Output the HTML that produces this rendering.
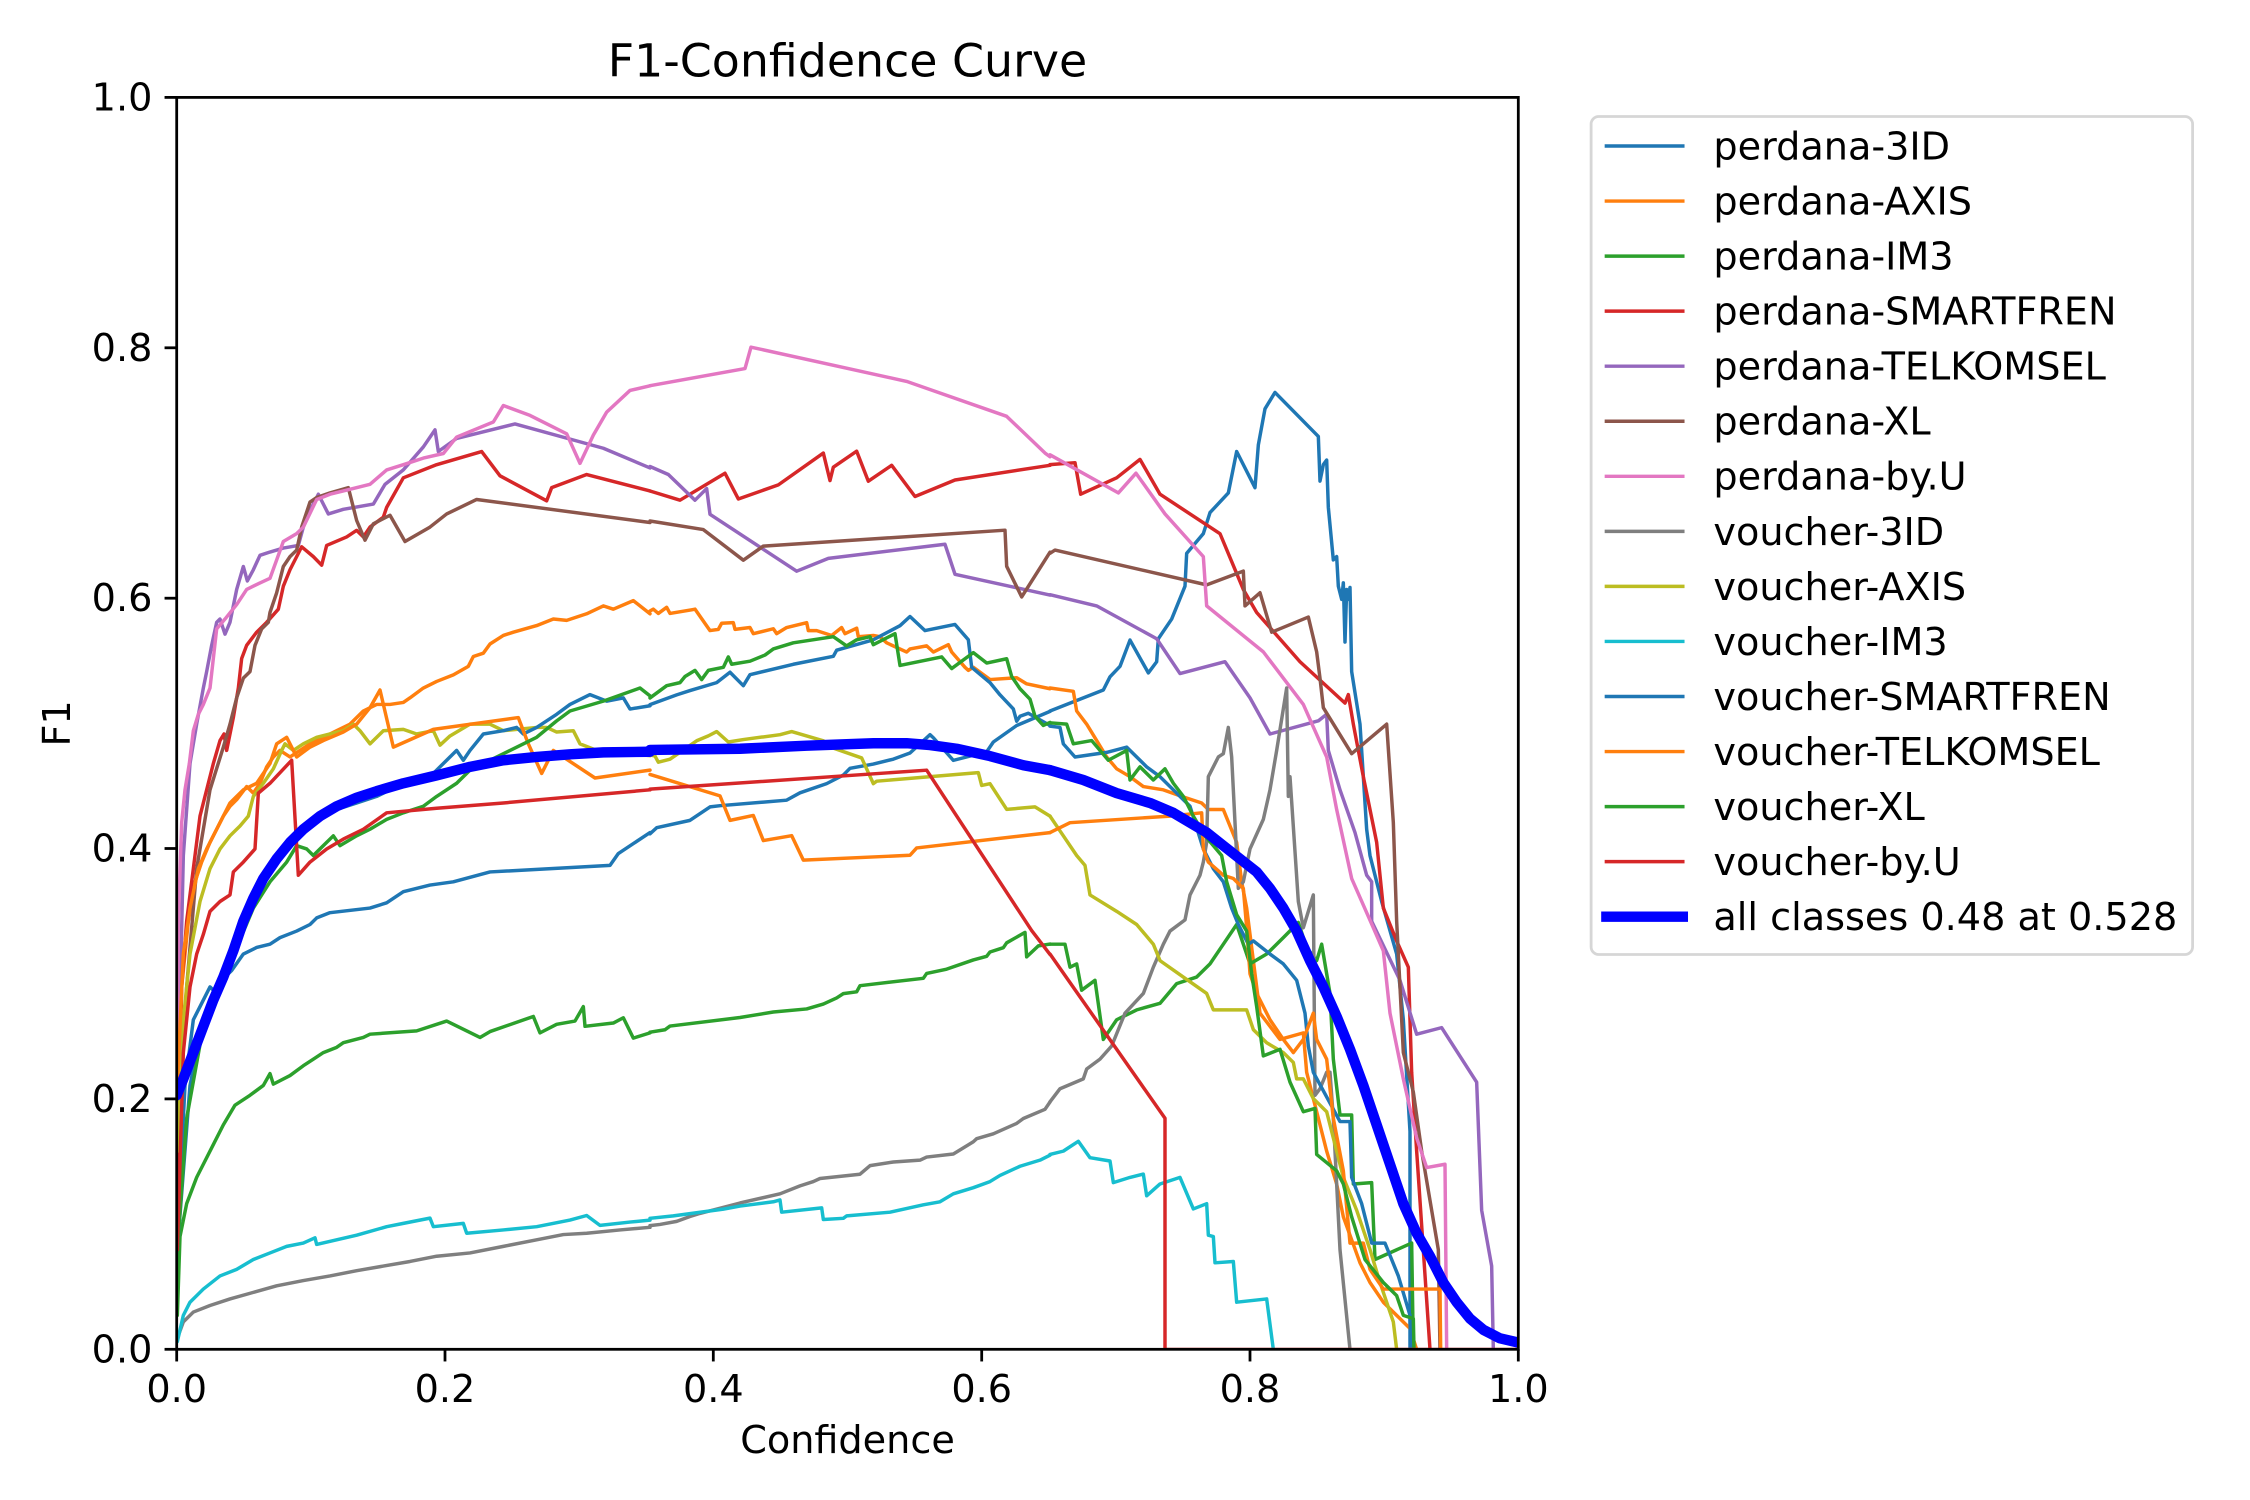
<!DOCTYPE html>
<html>
<head>
<meta charset="utf-8">
<style>
html,body{margin:0;padding:0;background:#fff;}
svg{display:block;}
.l polyline{fill:none;stroke-width:3.47;vector-effect:non-scaling-stroke;stroke-linejoin:round;stroke-linecap:round;}
.m polyline{fill:none;stroke:#0000ff;stroke-width:10.42;vector-effect:non-scaling-stroke;stroke-linejoin:round;stroke-linecap:round;}
text{font-family:"DejaVu Sans","Liberation Sans",sans-serif;fill:#000;}
</style>
</head>
<body>
<svg xmlns="http://www.w3.org/2000/svg" width="2250" height="1500" viewBox="0 0 2250 1500">
<rect x="0" y="0" width="2250" height="1500" fill="#fff"/>
<defs><clipPath id="c"><rect x="176.7" y="97.4" width="1341.6" height="1251.9"/></clipPath></defs>

<g clip-path="url(#c)">
<!-- left region -->
<g class="l" transform="matrix(0.33333 0 0 0.6569 170 330)">
<polyline stroke="#1f77b4" points="22,1450 30,1300 45,1150 70,1050 100,1020 120,1000 140,1010 165,985 185,975 220,950 260,940 300,935 330,925 380,915 420,905 440,895 480,887 600,880 650,872 700,855 780,845 850,840 960,825 1320,815 1345,797 1440,765"/>
<polyline stroke="#ff7f0e" points="22,1200 35,1000 55,900 75,840 95,810 120,780 140,760 160,740 180,725 200,715 230,695 250,705 270,690 290,665 310,650 330,640 360,650 390,640 420,630 460,620 500,610 540,600 580,580 620,570 660,570 700,567 720,560 760,545 800,535 850,525 895,512 910,497 940,492 960,478 1000,465 1030,460 1100,450 1150,440 1190,442 1250,432 1300,420 1330,425 1390,412 1440,432"/>
<polyline stroke="#2ca02c" points="22,1500 30,1380 50,1330 80,1290 100,1270 130,1240 160,1210 195,1180 240,1165 280,1150 300,1132 310,1148 360,1135 400,1120 430,1110 460,1100 500,1092 520,1085 580,1077 600,1072 740,1067 830,1052 930,1077 960,1068 1090,1045 1110,1070 1160,1057 1215,1052 1240,1030 1245,1060 1330,1055 1360,1047 1390,1078 1440,1070"/>
<polyline stroke="#d62728" points="22,1300 35,1000 50,900 70,820 90,740 110,700 130,660 150,625 162,615 170,640 190,590 205,545 215,500 230,480 260,460 290,445 325,425 340,390 360,365 395,330 430,345 455,358 470,328 530,315 560,305 580,315 600,300 640,285 650,270 700,225 800,205 935,185 990,222 1130,260 1145,240 1250,220 1440,245"/>
<polyline stroke="#9467bd" points="22,1200 40,800 60,660 80,600 100,545 110,520 125,480 140,445 150,440 165,463 180,445 200,395 220,360 232,382 250,365 270,343 300,338 340,332 385,328 400,300 420,275 445,250 475,280 520,273 610,265 645,235 700,213 760,178 795,152 805,185 860,165 1035,143 1300,180 1440,210"/>
<polyline stroke="#8c564b" points="22,1250 50,1000 80,820 120,700 160,635 180,600 200,560 220,530 240,520 255,480 275,455 295,445 300,430 320,400 340,360 360,345 380,335 395,300 420,262 440,255 480,248 535,240 560,290 585,320 610,295 660,282 705,322 780,300 830,280 920,258 1440,293"/>
<polyline stroke="#e377c2" points="22,1100 25,900 35,750 45,700 58,660 70,610 85,585 100,570 120,545 140,455 165,440 200,418 230,395 270,385 300,378 340,322 380,310 400,300 440,258 480,250 520,245 600,235 650,213 700,205 760,195 820,188 860,163 970,140 1000,115 1080,130 1190,158 1230,203 1270,160 1310,125 1380,92 1440,85"/>
<polyline stroke="#7f7f7f" points="22,1535 40,1510 70,1495 120,1485 180,1475 250,1465 320,1455 400,1447 480,1440 560,1432 640,1425 720,1418 800,1410 900,1405 1000,1395 1100,1385 1180,1377 1250,1375 1350,1370 1440,1366"/>
<polyline stroke="#bcbd22" points="22,1250 40,1050 60,950 90,870 120,820 150,790 180,770 210,755 235,740 250,710 280,690 310,668 335,640 345,630 370,640 400,630 440,620 480,615 520,610 550,600 570,610 600,630 640,610 700,608 740,615 790,610 810,632 840,618 900,600 960,600 1000,610 1100,605 1130,605 1160,612 1210,610 1230,630 1280,640 1380,645 1440,648"/>
<polyline stroke="#17becf" points="22,1540 40,1500 60,1480 100,1460 150,1440 200,1430 250,1415 300,1405 350,1395 400,1390 435,1382 440,1392 500,1385 560,1378 650,1365 700,1360 780,1352 790,1365 880,1360 890,1375 1000,1370 1100,1365 1200,1355 1250,1348 1290,1363 1380,1358 1440,1355"/>
<polyline stroke="#1f77b4" points="22,1400 60,1150 100,1050 130,1010 150,990 180,960 220,900 260,860 300,820 340,790 380,770 420,750 460,740 500,730 560,720 620,710 700,690 780,680 860,640 880,655 900,640 940,615 1000,610 1040,605 1060,615 1100,605 1160,585 1200,570 1260,555 1310,565 1360,560 1380,577 1440,572"/>
<polyline stroke="#ff7f0e" points="22,1150 40,950 60,880 85,820 110,790 150,750 180,720 220,700 260,690 300,660 320,630 350,620 380,650 420,635 460,625 520,612 560,600 600,575 630,548 670,635 790,608 1045,590 1075,630 1115,675 1150,640 1275,682 1440,670"/>
<polyline stroke="#2ca02c" points="22,1400 50,1200 100,1060 150,1000 200,940 250,880 300,840 350,810 380,785 410,790 430,800 460,785 490,770 510,785 560,770 600,760 650,745 700,735 760,725 800,710 860,690 900,670 960,655 1040,635 1100,620 1160,595 1200,580 1300,565 1410,545 1440,557"/>
<polyline stroke="#d62728" points="22,1400 40,1100 60,1000 80,950 100,920 120,885 150,870 180,860 190,825 220,810 255,790 265,705 300,690 365,655 385,830 420,810 470,790 520,775 580,760 650,735 800,728 1000,720 1440,700"/>
</g>

<!-- middle region (zoom11 coords) -->
<g class="l" transform="matrix(0.33333 0 0 0.6122 640 300)">
<polyline stroke="#1f77b4" points="30,872 50,862 150,850 210,828 240,826 440,817 480,805 560,790 610,776 630,765 700,758 760,750 810,740 870,710 880,715 940,752 1040,738 1060,722 1130,695 1230,672"/>
<polyline stroke="#ff7f0e" points="30,508 40,505 55,512 80,502 90,512 155,506 165,505 210,540 235,538 245,528 280,527 285,538 330,535 340,545 400,537 410,545 440,535 500,527 505,540 530,540 575,548 605,535 615,545 650,536 655,550 700,548 720,550 740,560 800,575 810,570 860,565 880,575 925,563 935,575 975,600 985,605 1000,600 1050,620 1130,617 1160,627 1230,635"/>
<polyline stroke="#2ca02c" points="30,1196 75,1192 90,1186 300,1172 400,1163 500,1158 550,1150 590,1140 610,1133 650,1130 660,1120 850,1108 860,1100 920,1093 1000,1078 1040,1072 1050,1065 1090,1058 1100,1050 1155,1033 1160,1073 1195,1055 1230,1052"/>
<polyline stroke="#d62728" points="30,312 120,327 255,283 295,325 415,302 550,250 570,295 580,273 650,247 685,296 755,270 825,321 945,294 1230,270"/>
<polyline stroke="#9467bd" points="30,272 85,285 165,327 200,308 210,350 470,443 565,422 915,399 945,448 1230,482"/>
<polyline stroke="#8c564b" points="30,361 190,375 310,425 370,402 1095,376 1100,435 1145,485 1230,412"/>
<polyline stroke="#e377c2" points="30,140 315,112 333,77 800,133 1100,190 1215,250 1230,256"/>
<polyline stroke="#7f7f7f" points="30,1512 60,1510 110,1505 150,1497 180,1492 300,1475 420,1460 480,1447 520,1440 540,1435 660,1428 690,1414 760,1408 840,1405 860,1400 940,1395 1000,1375 1010,1370 1060,1362 1130,1345 1150,1337 1215,1322 1230,1310"/>
<polyline stroke="#bcbd22" points="30,743 45,745 55,755 90,750 170,720 205,712 230,705 265,722 310,718 420,710 455,705 550,720 580,732 665,748 700,790 710,786 1015,772 1025,793 1050,790 1100,832 1185,828 1230,843"/>
<polyline stroke="#17becf" points="30,1500 100,1496 250,1485 300,1480 400,1473 420,1470 425,1490 545,1483 550,1502 610,1500 620,1496 750,1490 850,1478 900,1473 940,1460 1000,1450 1050,1440 1080,1430 1140,1415 1200,1405 1230,1397"/>
<polyline stroke="#1f77b4" points="30,661 110,645 150,638 230,625 270,608 310,630 330,612 460,595 580,582 590,572 700,555 780,532 810,517 855,540 945,530 985,555 995,600 1050,625 1080,645 1120,668 1130,688 1140,680 1165,675 1230,695"/>
<polyline stroke="#ff7f0e" points="30,775 240,810 270,850 340,842 370,883 455,875 490,915 810,907 830,895 1230,870"/>
<polyline stroke="#2ca02c" points="30,650 80,630 120,625 135,615 165,605 185,620 205,605 250,600 265,583 275,595 330,590 375,580 400,570 460,560 580,550 620,565 650,555 690,550 700,563 765,545 780,597 905,583 935,602 1000,576 1040,593 1100,586 1115,615 1140,635 1170,652 1185,680 1210,695 1230,690"/>
<polyline stroke="#d62728" points="30,799 860,768 1175,1030 1230,1069"/>
</g>

<!-- right region -->
<g class="l" transform="matrix(0.33333 0 0 0.6569 1050 330)">
<polyline stroke="#1f77b4" points="0,580 160,548 180,528 210,512 240,472 295,522 320,505 325,470 365,440 405,390 410,340 460,310 480,278 535,248 560,185 615,240 625,175 645,120 675,95 805,162 810,230 820,205 830,198 835,270 850,350 860,345 865,390 875,410 880,385 885,475 890,395 895,410 900,392 905,520 930,600 950,760 960,800 995,870 1040,950 1060,1050 1080,1220 1080,1552"/>
<polyline stroke="#ff7f0e" points="0,545 70,550 80,580 110,600 140,625 170,650 200,668 240,680 280,695 340,700 395,710 455,720 475,730 520,730 560,780 575,840 590,880 600,920 630,1040 690,1080 760,1070 770,1130 790,1170 830,1250 860,1300 880,1350 930,1420 960,1450 1000,1480 1040,1500 1080,1520 1100,1552"/>
<polyline stroke="#2ca02c" points="0,935 45,935 60,970 80,965 95,1005 135,990 160,1080 200,1050 260,1035 330,1025 380,995 440,985 480,965 520,935 560,905 570,920 600,965 650,950 700,925 745,902 770,940 800,960 815,935 840,1010 850,1110 870,1195 905,1195 910,1300 965,1298 975,1415 1085,1390 1090,1552"/>
<polyline stroke="#d62728" points="0,205 75,202 92,250 200,225 270,197 330,250 510,310 580,395 620,430 750,505 885,568 895,555 910,600 940,680 980,780 1000,880 1040,930 1075,970 1085,1130 1100,1250 1140,1552"/>
<polyline stroke="#9467bd" points="0,403 140,420 320,470 390,523 525,505 600,560 660,615 805,595 830,585 835,640 870,700 915,765 950,830 965,840 965,900 1050,990 1100,1072 1175,1062 1280,1145 1295,1340 1325,1425 1330,1552"/>
<polyline stroke="#8c564b" points="0,340 15,335 470,388 580,367 585,420 630,400 665,460 775,437 800,490 810,530 820,575 905,645 1010,600 1030,750 1040,900 1060,1100 1090,1160 1115,1250 1165,1400 1170,1552"/>
<polyline stroke="#e377c2" points="0,190 205,248 258,218 345,280 460,345 470,420 640,490 760,570 830,650 860,730 905,835 970,910 1000,945 1020,1040 1060,1140 1100,1230 1130,1275 1185,1270 1190,1552"/>
<polyline stroke="#7f7f7f" points="0,1175 30,1155 100,1140 110,1125 150,1110 185,1090 225,1040 280,1010 310,970 340,935 360,915 405,898 420,860 450,830 460,810 470,780 475,680 505,650 520,645 535,605 545,650 565,850 580,840 600,790 640,745 660,700 680,640 710,545 715,710 720,680 745,870 760,910 790,860 795,1165 810,1155 830,1130 840,1130 850,1200 870,1400 900,1552"/>
<polyline stroke="#bcbd22" points="0,740 40,770 80,800 105,815 120,860 200,885 260,905 310,935 330,960 400,985 470,1010 490,1035 590,1035 610,1065 650,1085 700,1100 730,1115 740,1140 760,1140 790,1170 830,1190 880,1290 920,1340 960,1400 990,1450 1030,1510 1040,1552"/>
<polyline stroke="#17becf" points="0,1255 40,1250 85,1235 120,1260 180,1265 190,1298 240,1290 280,1285 290,1318 330,1300 390,1290 430,1338 470,1330 475,1378 490,1380 495,1420 550,1418 560,1480 650,1475 670,1552"/>
<polyline stroke="#1f77b4" points="0,603 30,605 40,630 75,650 170,643 230,635 290,665 330,680 380,705 420,725 460,790 490,820 520,840 545,880 565,905 595,935 610,930 660,950 700,965 740,990 765,1040 775,1090 790,1130 870,1205 900,1205 905,1290 935,1330 965,1390 1005,1390 1045,1440 1080,1500 1082,1552"/>
<polyline stroke="#ff7f0e" points="0,765 60,750 360,740 455,735 460,790 475,810 520,830 550,835 580,850 590,910 600,980 620,1010 660,1050 700,1080 730,1100 760,1080 790,1040 800,1080 830,1110 850,1200 880,1280 900,1390 940,1390 960,1430 1000,1460 1170,1460 1172,1552"/>
<polyline stroke="#2ca02c" points="0,598 50,600 70,630 125,625 175,655 230,640 240,685 270,665 310,685 345,668 370,690 400,710 430,740 465,770 515,800 530,840 560,890 590,915 605,980 620,1030 640,1105 690,1095 720,1145 760,1190 795,1185 800,1255 860,1280 880,1300 905,1350 945,1415 1000,1450 1040,1470 1060,1500 1090,1505 1092,1552"/>
<polyline stroke="#d62728" points="0,950 345,1200 345,1552 1410,1552"/>
</g>

<!-- mean curve -->
<g class="m" transform="matrix(0.33333 0 0 0.6569 170 330)">
<polyline points="20,1165 40,1140 70,1100 100,1060 130,1020 160,985 190,945 220,900 250,865 280,835 320,805 360,780 400,760 450,740 500,725 560,712 620,702 700,690 800,678 900,665 1000,655 1100,650 1200,646 1300,643 1440,642"/>
</g>
<g class="m" transform="matrix(0.33333 0 0 0.6122 640 300)">
<polyline points="30,735 300,733 500,728 700,724 800,724 870,727 950,733 1050,745 1150,760 1230,768"/>
</g>
<g class="m" transform="matrix(0.33333 0 0 0.6569 1050 330)">
<polyline points="0,670 100,685 200,705 300,720 370,735 420,750 470,765 520,785 570,805 620,825 660,850 700,880 740,915 780,960 820,1000 860,1045 900,1095 940,1150 980,1210 1020,1270 1060,1330 1100,1375 1140,1410 1180,1450 1220,1480 1260,1505 1300,1522 1350,1535 1410,1542"/>
</g>
</g>

<!-- spines -->
<rect x="176.7" y="97.4" width="1341.6" height="1251.9" fill="none" stroke="#000" stroke-width="2.78"/>

<!-- ticks -->
<g stroke="#000" stroke-width="2.78">
<line x1="176.7" y1="1349.3" x2="176.7" y2="1361.45"/>
<line x1="445.0" y1="1349.3" x2="445.0" y2="1361.45"/>
<line x1="713.3" y1="1349.3" x2="713.3" y2="1361.45"/>
<line x1="981.7" y1="1349.3" x2="981.7" y2="1361.45"/>
<line x1="1250.0" y1="1349.3" x2="1250.0" y2="1361.45"/>
<line x1="1518.3" y1="1349.3" x2="1518.3" y2="1361.45"/>
<line x1="164.55" y1="1349.3" x2="176.7" y2="1349.3"/>
<line x1="164.55" y1="1098.9" x2="176.7" y2="1098.9"/>
<line x1="164.55" y1="848.5" x2="176.7" y2="848.5"/>
<line x1="164.55" y1="598.2" x2="176.7" y2="598.2"/>
<line x1="164.55" y1="347.8" x2="176.7" y2="347.8"/>
<line x1="164.55" y1="97.4" x2="176.7" y2="97.4"/>
</g>

<!-- tick labels -->
<g font-size="38.19" text-anchor="middle">
<text x="176.7" y="1402">0.0</text>
<text x="445.0" y="1402">0.2</text>
<text x="713.3" y="1402">0.4</text>
<text x="981.7" y="1402">0.6</text>
<text x="1250.0" y="1402">0.8</text>
<text x="1518.3" y="1402">1.0</text>
</g>
<g font-size="38.19" text-anchor="end">
<text x="152.4" y="1362.3">0.0</text>
<text x="152.4" y="1111.9">0.2</text>
<text x="152.4" y="861.5">0.4</text>
<text x="152.4" y="611.2">0.6</text>
<text x="152.4" y="360.8">0.8</text>
<text x="152.4" y="110.4">1.0</text>
</g>

<!-- axis labels & title -->
<text x="847.5" y="1453" font-size="38.19" text-anchor="middle">Confidence</text>
<text x="69.8" y="723.4" font-size="38.19" text-anchor="middle" transform="rotate(-90 69.8 723.4)">F1</text>
<text x="847.5" y="76.6" font-size="45.83" text-anchor="middle">F1-Confidence Curve</text>

<!-- legend -->
<rect x="1591.1" y="116.5" width="601.5" height="838" rx="7.6" ry="7.6" fill="#fff" stroke="#d6d6d6" stroke-width="2.78"/>
<g stroke-width="3.47" stroke-linecap="square">
<line x1="1606.4" x2="1682.8" y1="146" y2="146" stroke="#1f77b4"/>
<line x1="1606.4" x2="1682.8" y1="201.05" y2="201.05" stroke="#ff7f0e"/>
<line x1="1606.4" x2="1682.8" y1="256.1" y2="256.1" stroke="#2ca02c"/>
<line x1="1606.4" x2="1682.8" y1="311.15" y2="311.15" stroke="#d62728"/>
<line x1="1606.4" x2="1682.8" y1="366.2" y2="366.2" stroke="#9467bd"/>
<line x1="1606.4" x2="1682.8" y1="421.25" y2="421.25" stroke="#8c564b"/>
<line x1="1606.4" x2="1682.8" y1="476.3" y2="476.3" stroke="#e377c2"/>
<line x1="1606.4" x2="1682.8" y1="531.35" y2="531.35" stroke="#7f7f7f"/>
<line x1="1606.4" x2="1682.8" y1="586.4" y2="586.4" stroke="#bcbd22"/>
<line x1="1606.4" x2="1682.8" y1="641.45" y2="641.45" stroke="#17becf"/>
<line x1="1606.4" x2="1682.8" y1="696.5" y2="696.5" stroke="#1f77b4"/>
<line x1="1606.4" x2="1682.8" y1="751.55" y2="751.55" stroke="#ff7f0e"/>
<line x1="1606.4" x2="1682.8" y1="806.6" y2="806.6" stroke="#2ca02c"/>
<line x1="1606.4" x2="1682.8" y1="861.65" y2="861.65" stroke="#d62728"/>
<line x1="1606.4" x2="1682.8" y1="916.7" y2="916.7" stroke="#0000ff" stroke-width="10.42"/>
</g>
<g font-size="38.19">
<text x="1713.4" y="159.4">perdana-3ID</text>
<text x="1713.4" y="214.45">perdana-AXIS</text>
<text x="1713.4" y="269.5">perdana-IM3</text>
<text x="1713.4" y="324.55">perdana-SMARTFREN</text>
<text x="1713.4" y="379.6">perdana-TELKOMSEL</text>
<text x="1713.4" y="434.65">perdana-XL</text>
<text x="1713.4" y="489.7">perdana-by.U</text>
<text x="1713.4" y="544.75">voucher-3ID</text>
<text x="1713.4" y="599.8">voucher-AXIS</text>
<text x="1713.4" y="654.85">voucher-IM3</text>
<text x="1713.4" y="709.9">voucher-SMARTFREN</text>
<text x="1713.4" y="764.95">voucher-TELKOMSEL</text>
<text x="1713.4" y="820">voucher-XL</text>
<text x="1713.4" y="875.05">voucher-by.U</text>
<text x="1713.4" y="930.1">all classes 0.48 at 0.528</text>
</g>
</svg>
</body>
</html>
